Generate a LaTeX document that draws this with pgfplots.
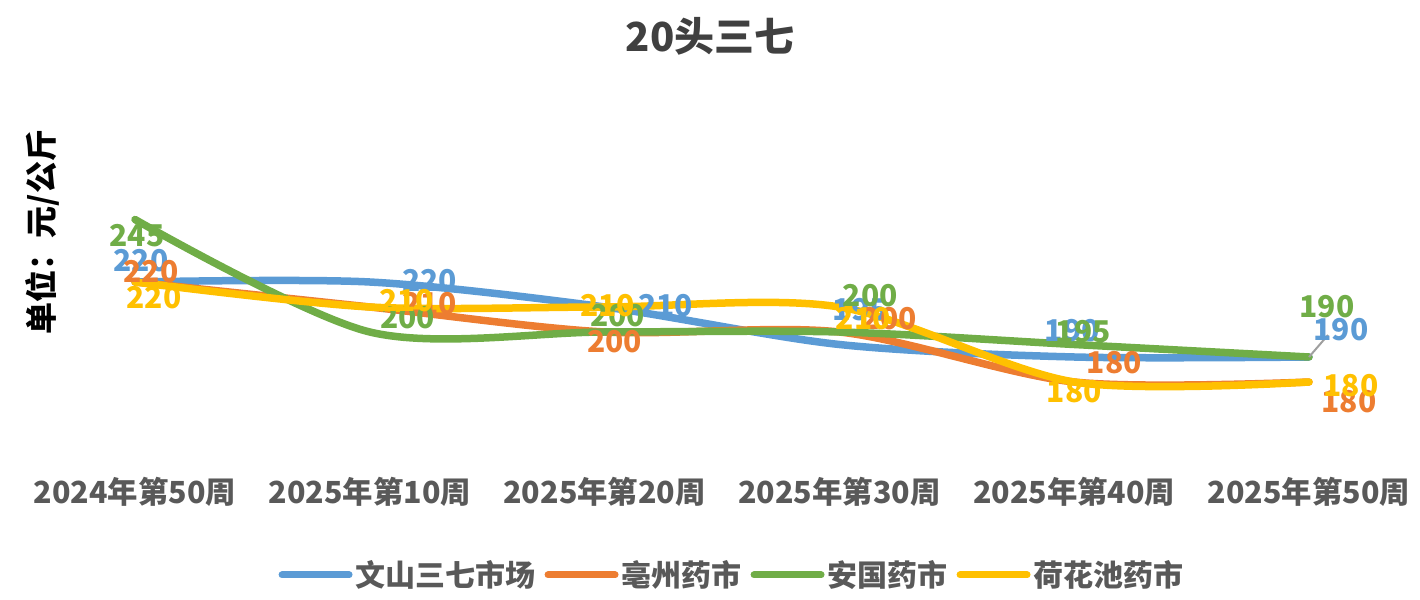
\documentclass[border=0pt]{standalone}
\usepackage{pgfplots}
\pgfplotsset{compat=1.18}
\usepackage{pgfplotstable}
\usepackage{fontspec}
\setmainfont{Noto Sans CJK SC}
\definecolor{cblue}{HTML}{5B9BD5}
\definecolor{corange}{HTML}{ED7D31}
\definecolor{cgreen}{HTML}{70AD47}
\definecolor{cyellow}{HTML}{FFC000}
\definecolor{tgray}{HTML}{595959}
\definecolor{ttitle}{HTML}{404040}
\pgfplotstableread{
x y dx dy
0 220 3 10.5
1 220 30 0.5
2 210 30.5 0.5
3 195 10.5 17.5
4 190 -1 13
5 190 16 13.5
}\tblue
\pgfplotstableread{
x y dx dy
0 220 8 5
1 210 30 1.5
2 200 5 -5
3 200 25 6.5
4 180 20 9.5
5 180 20 -10
}\torange
\pgfplotstableread{
x y dx dy
0 245 1 -8
1 200 19 7
2 200 6.5 8
3 200 15.5 18
4 195 4.5 6.5
5 190 9 25
}\tgreen
\pgfplotstableread{
x y dx dy
0 220 9.5 -8
1 210 18.5 3
2 210 1.5 0.5
3 210 12 -6
4 180 0 -5
5 180 21 -2
}\tyellow
\pgfplotsset{
  lbl/.style={draw=none, forget plot, nodes near coords, point meta=y,
    visualization depends on={\thisrow{dx}\as\dx},
    visualization depends on={\thisrow{dy}\as\dy},
    nodes near coords style={anchor=center, inner sep=0pt, xshift=\dx pt, yshift=\dy pt,
      text=#1, font=\fontsize{15}{18}\selectfont\bfseries}},
  ser/.style={color=#1, line width=3.75pt, smooth, line cap=round, line join=round},
}
\begin{document}
\begin{tikzpicture}
\path[use as bounding box] (0,0) rectangle (710pt,300pt);
\begin{axis}[
  at={(67.5pt,71.5pt)}, anchor=south west,
  scale only axis, width=587pt, height=137.5pt,
  xmin=0, xmax=5, ymin=150, ymax=260,
  clip=false,
  /pgf/number format/assume math mode=true,
  axis line style={draw=none}, major tick length=0pt,
  ytick=\empty,
  xtick={0,1,2,3,4,5},
  xticklabels={2024年第50周,2025年第10周,2025年第20周,2025年第30周,2025年第40周,2025年第50周},
  xticklabel style={anchor=center, yshift=-17.5pt, text=tgray, font=\fontsize{15.2}{18}\selectfont\bfseries},
  title={20头三七},
  title style={at={(axis description cs:0.4898,1.487)}, anchor=center, text=ttitle, font=\fontsize{20}{24}\selectfont\bfseries},
  ylabel={单位：元/公斤},
  ylabel style={at={(axis description cs:-0.0792,0.818)}, anchor=center, text=black, font=\fontsize{16}{19}\selectfont\bfseries},
  legend style={at={(axis description cs:0.509,-0.429)}, anchor=center, draw=none, fill=none,
    legend columns=4, font=\fontsize{15}{18}\selectfont\bfseries, text=tgray,
    nodes={inner sep=1.5pt},
    /tikz/every even column/.append style={column sep=3pt}},
  legend image code/.code={\draw[#1, line width=3.5pt, line cap=round] (1.75pt,0pt) -- (35.25pt,0pt);},
]
\addplot[ser=cblue] table[x=x,y=y]{\tblue};
\addlegendentry{文山三七市场}
\addplot[ser=corange] table[x=x,y=y]{\torange};
\addlegendentry{亳州药市}
\addplot[ser=cgreen] table[x=x,y=y]{\tgreen};
\addlegendentry{安国药市}
\addplot[ser=cyellow] table[x=x,y=y]{\tyellow};
\addlegendentry{荷花池药市}
\draw[gray!75, line width=1pt] (axis cs:5,190) -- ++(9.5pt,11pt);
\addplot[lbl=cblue] table[x=x,y=y]{\tblue};
\addplot[lbl=corange] table[x=x,y=y]{\torange};
\addplot[lbl=cgreen] table[x=x,y=y]{\tgreen};
\addplot[lbl=cyellow] table[x=x,y=y]{\tyellow};
\end{axis}
\end{tikzpicture}
\end{document}
